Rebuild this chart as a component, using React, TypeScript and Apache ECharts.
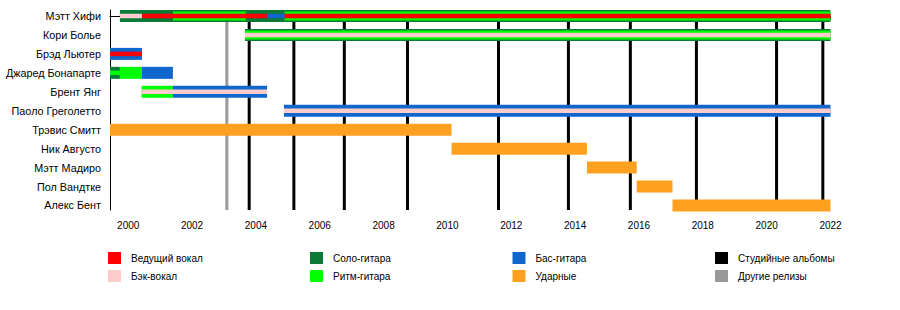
import React, { useEffect, useRef } from "react";
import * as echarts from "echarts";

// ---------- data ----------
const members = [
  "Мэтт Хифи",
  "Кори Болье",
  "Брэд Льютер",
  "Джаред Бонапарте",
  "Брент Янг",
  "Паоло Греголетто",
  "Трэвис Смитт",
  "Ник Августо",
  "Мэтт Мадиро",
  "Пол Вандтке",
  "Алекс Бент",
];

// segments: [start, end, memberIndex, layer(0 full, 1 middle, 2 inner)]
const leadGuitar = [
  [1999.74, 2022, 0, 0],
  [2003.66, 2022, 1, 0],
  [1999.43, 1999.74, 3, 0],
];
const rhythmGuitar = [
  [2001.4, 2003.68, 0, 1],
  [2004.9, 2022, 0, 1],
  [2003.66, 2022, 1, 1],
  [1999.43, 1999.74, 3, 2],
  [1999.74, 2000.42, 3, 0],
  [2000.42, 2001.4, 4, 0],
];
const bassGuitar = [
  [2004.35, 2004.9, 0, 2],
  [1999.43, 2000.43, 2, 0],
  [2000.42, 2001.4, 3, 0],
  [2001.4, 2004.35, 4, 0],
  [2004.88, 2022, 5, 0],
];
const drums = [
  [1999.43, 2010.13, 6, 0],
  [2010.13, 2014.37, 7, 0],
  [2014.37, 2015.93, 8, 0],
  [2015.93, 2017.05, 9, 0],
  [2017.05, 2022, 10, 0],
];
const leadVocals = [
  [2000.43, 2004.35, 0, 2],
  [2004.9, 2022, 0, 2],
  [1999.43, 2000.43, 2, 2],
];
const backingVocals = [
  [1999.74, 2000.43, 0, 2],
  [2003.66, 2022, 1, 2],
  [2000.42, 2004.35, 4, 2],
  [2004.88, 2022, 5, 2],
];
const studioAlbums = [2003.79, 2005.19, 2006.77, 2008.75, 2011.6, 2013.79, 2015.73, 2017.8, 2020.31, 2021.76];
const otherReleases = [2003.09];

const xTicks = [2000, 2001, 2002, 2003, 2004, 2005, 2006, 2007, 2008, 2009, 2010, 2011, 2012, 2013, 2014, 2015, 2016, 2017, 2018, 2019, 2020, 2021, 2022];
const xLabels = [2000, 2002, 2004, 2006, 2008, 2010, 2012, 2014, 2016, 2018, 2020, 2022];

const roleNames = {
  leadVocals: "Ведущий вокал",
  backingVocals: "Бэк-вокал",
  leadGuitar: "Соло-гитара",
  rhythmGuitar: "Ритм-гитара",
  bass: "Бас-гитара",
  drums: "Ударные",
  albums: "Студийные альбомы",
  other: "Другие релизы",
};

// ---------- styles ----------
const COLORS = {
  leadVocals: "#ff0000",
  backingVocals: "#ffcccc",
  leadGuitar: "#0a7a36",
  rhythmGuitar: "#00ff00",
  bass: "#0f66cc",
  drums: "#ffa020",
  albums: "#000000",
  other: "#999999",
};
const LAYER_PX = [12, 9, 4.5];
const Y_MIN = -0.3166;
const Y_MAX = 10.2375;
const FONT = "'Liberation Sans', Arial, sans-serif";

function barSeries(name: string, color: string, data: number[][]) {
  return {
    type: "custom",
    name,
    itemStyle: { color },
    encode: { x: [0, 1], y: 2 },
    data,
    renderItem: (params: any, api: any) => {
      const s = api.value(0);
      const e = api.value(1);
      const row = api.value(2);
      const layer = api.value(3);
      const p0 = api.coord([s, row]);
      const p1 = api.coord([e, row]);
      const h = LAYER_PX[layer];
      return {
        type: "rect",
        shape: { x: p0[0], y: p0[1] - h / 2, width: p1[0] - p0[0], height: h },
        style: { fill: api.visual("color") },
      };
    },
  };
}

function lineSeries(name: string, color: string, years: number[]) {
  return {
    type: "custom",
    name,
    itemStyle: { color },
    encode: { x: 0, y: 1 },
    data: years.map((y) => [y, 0]),
    renderItem: (params: any, api: any) => {
      const x = api.value(0);
      const a = api.coord([x, Y_MIN]);
      const b = api.coord([x, Y_MAX]);
      return {
        type: "line",
        shape: { x1: a[0], y1: a[1], x2: b[0], y2: b[1] },
        style: { stroke: api.visual("color"), lineWidth: 3 },
      };
    },
  };
}

function legendAt(left: number, names: string[]) {
  return {
    orient: "vertical",
    left,
    top: 252,
    padding: 0,
    itemWidth: 13,
    itemHeight: 12,
    itemGap: 6,
    icon: "rect",
    selectedMode: false,
    data: names,
    textStyle: { fontSize: 10, color: "#000", fontFamily: FONT, padding: [0, 0, 0, 5] },
  };
}

export default function App() {
  const ref = useRef<HTMLDivElement>(null);
  useEffect(() => {
    if (!ref.current) return;
    const chart = echarts.init(ref.current, undefined, { renderer: "svg" });
    chart.setOption({
      animation: false,
      backgroundColor: "#ffffff",
      textStyle: { fontFamily: FONT },
      grid: { left: 110, right: 69.5, top: 10, height: 200, containLabel: false },
      xAxis: {
        type: "value",
        min: 1999.43,
        max: 2022,
        axisLine: { show: true, lineStyle: { color: "#000", width: 1 } },
        axisTick: { show: true, length: 4, customValues: xTicks, lineStyle: { color: "#000" } },
        axisLabel: {
          customValues: xLabels,
          formatter: (v: number) => String(v),
          fontSize: 10,
          color: "#000",
          margin: 10,
          fontFamily: FONT,
        },
        splitLine: { show: false },
      },
      yAxis: {
        type: "value",
        inverse: true,
        min: Y_MIN,
        max: Y_MAX,
        axisLine: { show: true, lineStyle: { color: "#000", width: 1 } },
        axisTick: { show: false },
        axisLabel: {
          customValues: members.map((_, i) => i),
          formatter: (v: number) => members[Math.round(v)] ?? "",
          fontSize: 10.8,
          color: "#000",
          margin: 9,
          fontFamily: FONT,
        },
        splitLine: { show: false },
      },
      legend: [
        legendAt(108, [roleNames.leadVocals, roleNames.backingVocals]),
        legendAt(310, [roleNames.leadGuitar, roleNames.rhythmGuitar]),
        legendAt(512.5, [roleNames.bass, roleNames.drums]),
        legendAt(715, [roleNames.albums, roleNames.other]),
      ],
      series: [
        lineSeries(roleNames.other, COLORS.other, otherReleases),
        lineSeries(roleNames.albums, COLORS.albums, studioAlbums),
        barSeries(roleNames.leadGuitar, COLORS.leadGuitar, leadGuitar),
        barSeries(roleNames.rhythmGuitar, COLORS.rhythmGuitar, rhythmGuitar),
        barSeries(roleNames.bass, COLORS.bass, bassGuitar),
        barSeries(roleNames.drums, COLORS.drums, drums),
        barSeries(roleNames.leadVocals, COLORS.leadVocals, leadVocals),
        barSeries(roleNames.backingVocals, COLORS.backingVocals, backingVocals),
      ],
    });
    return () => chart.dispose();
  }, []);
  return (
    <div
      ref={ref}
      style={{ position: "fixed", left: 0, top: 0, width: 900, height: 310, background: "#fff" }}
    />
  );
}
